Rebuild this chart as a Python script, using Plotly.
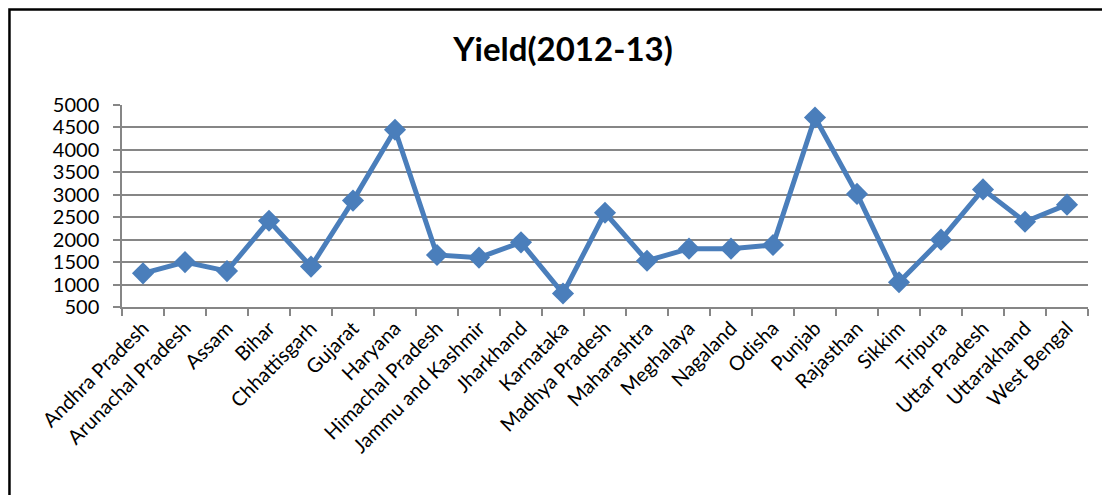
import plotly.graph_objects as go

states = ["Andhra Pradesh", "Arunachal Pradesh", "Assam", "Bihar", "Chhattisgarh",
          "Gujarat", "Haryana", "Himachal Pradesh", "Jammu and Kashmir", "Jharkhand",
          "Karnataka", "Madhya Pradesh", "Maharashtra", "Meghalaya", "Nagaland",
          "Odisha", "Punjab", "Rajasthan", "Sikkim", "Tripura", "Uttar Pradesh",
          "Uttarakhand", "West Bengal"]
yield_2012_13 = [1250, 1500, 1300, 2420, 1400, 2870, 4450, 1660, 1600, 1940,
                 800, 2600, 1530, 1800, 1800, 1880, 4720, 3020, 1050, 2000,
                 3120, 2400, 2780]
y_ticks = [500, 1000, 1500, 2000, 2500, 3000, 3500, 4000, 4500, 5000]

blue = "#4A7EBB"
fig = go.Figure(go.Scatter(
    x=states, y=yield_2012_13, mode="lines+markers",
    line=dict(color=blue, width=5),
    marker=dict(symbol="diamond", size=17, color=blue),
    showlegend=False,
))

fig.update_layout(
    width=1110, height=495,
    margin=dict(l=114, r=30, t=97, b=196),
    paper_bgcolor="white", plot_bgcolor="white",
    font=dict(family="Lato, Open Sans, sans-serif", color="black"),
    title=dict(text="<b>Yield(2012-13)</b>", x=0.5, xanchor="center",
               y=0.917, yanchor="middle", font=dict(size=33, color="black")),
)
fig.update_xaxes(
    type="category", range=[-0.5, len(states) - 0.5],
    tickson="boundaries", ticks="outside", ticklen=7, tickcolor="#868686",
    tickwidth=1.5, showline=True, linecolor="#868686", linewidth=1.5,
    showgrid=False, tickangle=-45, tickfont=dict(size=20),
)
fig.update_yaxes(
    range=[500, 5000], tickvals=y_ticks, ticks="outside", ticklen=7,
    tickcolor="#868686", tickwidth=1.5, showline=True, linecolor="#868686",
    linewidth=1.5, showgrid=True, gridcolor="#868686", gridwidth=1.5,
    tickfont=dict(size=20), zeroline=False, ticklabelstandoff=10,
)
fig.add_shape(type="rect", xref="paper", yref="paper",
              x0=-0.1165, x1=1.05, y0=-1.0, y1=1.4728,
              line=dict(color="black", width=2.5))
fig.write_html("out.html")
